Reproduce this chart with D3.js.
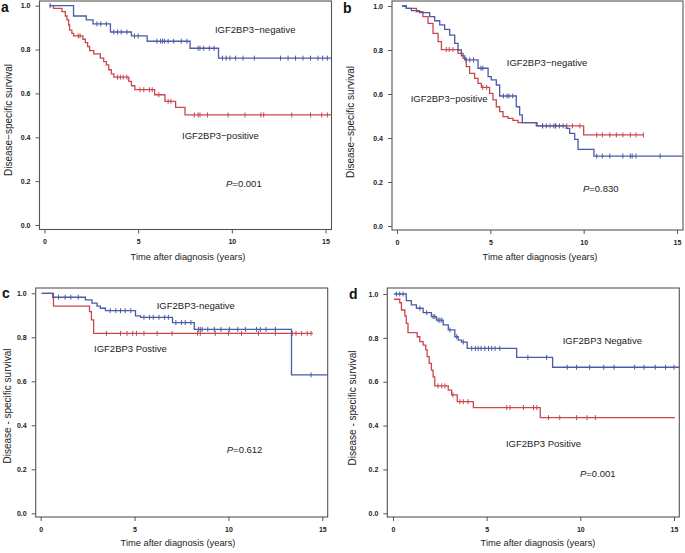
<!DOCTYPE html>
<html><head><meta charset="utf-8">
<script src="https://cdn.jsdelivr.net/npm/d3@7/dist/d3.min.js"></script>
<style>
body{margin:0;background:#fff;}
svg{display:block;font-family:"Liberation Sans",Arial,sans-serif;}
</style></head><body>
<svg id="chart" width="685" height="553"></svg>
<script>
// ---------- tick labels ----------
const xTicks = [0, 5, 10, 15];
const yTicks = [0, 0.2, 0.4, 0.6, 0.8, 1.0];

// ---------- panel a ----------
const aNegT = [0.27, 1.55, 2.23, 2.59, 3.52, 4.64, 5.48, 7.77, 9.29, 15.3];
const aNegS = [1.0, 0.953, 0.935, 0.917, 0.880, 0.862, 0.838, 0.806, 0.761, 0.761];
const aNegC = [0.3, 2.8, 3.0, 3.3, 3.7, 3.9, 4.1, 4.4, 4.8, 5.0, 6.0, 6.2, 6.3, 6.4, 6.6, 6.9, 7.3, 7.6, 8.2, 8.3, 8.5, 8.8, 9.05, 9.5, 9.7, 9.9, 10.2, 10.6, 11.2, 12.6, 13.0, 13.4, 13.8, 14.2, 14.6, 14.85, 15.1];
const aPosT = [0.27, 0.48, 0.93, 1.11, 1.2, 1.29, 1.34, 1.46, 1.55, 2.05, 2.18, 2.3, 2.41, 2.63, 2.98, 3.16, 3.3, 3.43, 3.57, 3.7, 4.5, 4.64, 4.82, 5.88, 6.43, 7.0, 7.5, 15.3];
const aPosS = [1.0, 0.988, 0.973, 0.953, 0.935, 0.912, 0.889, 0.874, 0.862, 0.847, 0.832, 0.814, 0.795, 0.780, 0.761, 0.745, 0.730, 0.708, 0.689, 0.674, 0.655, 0.635, 0.617, 0.594, 0.564, 0.536, 0.502, 0.502];
const aPosC = [1.8, 1.9, 3.9, 4.05, 4.2, 4.4, 5.1, 5.3, 5.6, 5.75, 6.1, 6.6, 6.75, 8.0, 8.2, 8.3, 8.7, 9.8, 10.7, 11.55, 11.7, 13.2, 14.2, 14.8, 15.1];

// ---------- panel b ----------
const bNegT = [0.27, 0.5, 0.77, 1.21, 1.75, 2.02, 2.29, 2.55, 2.82, 3.09, 3.27, 3.45, 3.63, 4.34, 4.88, 5.05, 5.32, 5.5, 6.39, 6.57, 6.71, 7.5, 9.07, 9.25, 9.52, 9.7, 10.55, 15.3];
const bNegS = [1.0, 0.989, 0.979, 0.970, 0.952, 0.933, 0.914, 0.894, 0.868, 0.830, 0.800, 0.773, 0.755, 0.717, 0.679, 0.664, 0.641, 0.591, 0.542, 0.505, 0.470, 0.455, 0.444, 0.421, 0.394, 0.348, 0.318, 0.318];
const bNegC = [3.7, 3.9, 4.1, 4.5, 4.6, 5.7, 5.9, 6.0, 6.2, 7.8, 8.0, 8.4, 8.5, 8.7, 8.9, 10.7, 11.0, 11.4, 12.1, 12.5, 12.6, 12.8, 14.1];
const bPosT = [0.27, 0.5, 1.04, 1.39, 1.66, 1.93, 2.2, 2.38, 3.27, 3.54, 3.71, 3.89, 4.16, 4.34, 4.52, 4.96, 5.14, 5.32, 5.5, 5.68, 5.95, 6.21, 6.48, 7.46, 10.0, 13.2];
const bPosS = [1.0, 0.989, 0.974, 0.952, 0.921, 0.876, 0.838, 0.802, 0.785, 0.762, 0.724, 0.694, 0.671, 0.648, 0.630, 0.603, 0.573, 0.542, 0.520, 0.497, 0.489, 0.480, 0.470, 0.455, 0.414, 0.414];
const bPosC = [2.64, 2.8, 3.0, 4.6, 4.8, 7.8, 8.2, 8.5, 9.1, 9.4, 9.8, 10.7, 11.0, 11.4, 11.75, 12.1, 12.5, 12.8, 13.2];

// ---------- panel c ----------
const cNegT = [0.05, 0.64, 2.38, 2.73, 3.0, 3.18, 3.45, 5.05, 5.32, 7.02, 8.18, 13.36, 15.3];
const cNegS = [1.0, 0.982, 0.970, 0.955, 0.942, 0.932, 0.921, 0.897, 0.891, 0.867, 0.836, 0.629, 0.629];
const cNegC = [0.95, 1.3, 1.6, 2.0, 3.7, 4.0, 4.25, 4.5, 4.8, 5.5, 5.8, 6.0, 6.3, 6.6, 6.8, 7.2, 7.5, 7.7, 8.0, 8.4, 8.5, 8.6, 8.9, 9.25, 9.6, 10.05, 10.5, 10.9, 11.5, 11.7, 12.0, 12.5, 14.4];
const cPosT = [0.05, 0.68, 2.6, 2.7, 2.82, 14.5];
const cPosS = [1.0, 0.942, 0.917, 0.879, 0.818, 0.818];
const cPosC = [3.5, 4.25, 4.6, 4.9, 5.1, 5.5, 6.2, 7.0, 8.35, 8.5, 9.3, 10.0, 10.7, 11.6, 12.5, 13.4, 13.6, 13.9, 14.2, 14.4];

// ---------- panel d ----------
const dNegT = [0.05, 0.71, 0.98, 1.25, 1.61, 2.05, 2.32, 2.68, 2.95, 3.3, 3.48, 3.66, 3.96, 6.6, 8.52, 15.27];
const dNegS = [1.0, 0.970, 0.950, 0.935, 0.915, 0.897, 0.881, 0.859, 0.836, 0.805, 0.790, 0.781, 0.752, 0.711, 0.666, 0.666];
const dNegC = [0.18, 0.36, 0.54, 1.43, 1.8, 2.14, 2.23, 2.41, 2.5, 2.6, 3.04, 3.4, 3.75, 4.2, 4.4, 4.55, 4.7, 4.9, 5.1, 5.27, 5.45, 5.7, 7.2, 8.2, 9.3, 9.8, 10.5, 11.25, 11.8, 12.9, 13.4, 14.0, 14.55, 15.0];
const dPosT = [0.05, 0.36, 0.45, 0.63, 0.71, 0.8, 1.29, 1.43, 1.61, 1.75, 1.82, 1.93, 2.05, 2.14, 2.23, 2.95, 3.13, 3.43, 4.29, 7.86, 15.05];
const dPosS = [0.976, 0.960, 0.927, 0.900, 0.866, 0.824, 0.805, 0.783, 0.767, 0.745, 0.714, 0.684, 0.653, 0.622, 0.581, 0.562, 0.540, 0.509, 0.482, 0.436, 0.436];
const dPosC = [2.4, 2.6, 2.77, 3.2, 3.57, 3.75, 4.0, 6.07, 6.25, 6.96, 7.5, 7.68, 8.3, 8.9, 9.8, 10.36, 10.8];

// ---------- annotation texts ----------
const negLabels = ["IGF2BP3\u2212negative", "IGF2BP3\u2212negative", "IGF2BP3-negative", "IGF2BP3 Negative"];
const posLabels = ["IGF2BP3\u2212positive", "IGF2BP3\u2212positive", "IGF2BP3 Postive", "IGF2BP3 Positive"];
const pValues = ["=0.001", "=0.830", "=0.612", "=0.001"];
const panelLetters = ["a", "b", "c", "d"];
const yTitles = ["Disease\u2212specific survival", "Disease\u2212specific survival", "Disease - specific survival", "Disease - specific survival"];
const xTitle = "Time after diagnosis (years)";

// ---------- layout (positions only) ----------
const layout = [
  {boxL:39.5, boxT:1, boxR:331.5, boxB:229.5, x0:44.5, x15:325.5, y1:5.7, y0:225, letter:[1,12], yt:[8,120], xt:[188,257],
   neg:[9.10,0.891], pos:[7.34,0.407], p:[9.69,0.187]},
  {boxL:392, boxT:1, boxR:683, boxB:230, x0:397, x15:677, y1:6, y0:226, letter:[343,13], yt:[350,122], xt:[540,257],
   neg:[5.88,0.744], pos:[0.73,0.577], p:[9.96,0.171]},
  {boxL:35.7, boxT:288, boxR:327.7, boxB:517, x0:40.7, x15:322.3, y1:293.3, y0:513.3, letter:[2,298], yt:[7,406], xt:[178,543],
   neg:[6.18,0.942], pos:[2.84,0.747], p:[9.91,0.291]},
  {boxL:387.3, boxT:288, boxR:679.3, boxB:517, x0:393, x15:674, y1:294, y0:513.3, letter:[349,299], yt:[352,408], xt:[538,543],
   neg:[9.06,0.786], pos:[6.03,0.316], p:[9.98,0.179]}
];

const seriesByPanel = [
  [{t:aPosT, s:aPosS, c:aPosC, col:"red"}, {t:aNegT, s:aNegS, c:aNegC, col:"blue"}],
  [{t:bPosT, s:bPosS, c:bPosC, col:"red"}, {t:bNegT, s:bNegS, c:bNegC, col:"blue"}],
  [{t:cPosT, s:cPosS, c:cPosC, col:"red"}, {t:cNegT, s:cNegS, c:cNegC, col:"blue"}],
  [{t:dPosT, s:dPosS, c:dPosC, col:"red"}, {t:dNegT, s:dNegS, c:dNegC, col:"blue"}]
];
const colors = {red:"#c9474d", blue:"#4d5aa6"};
const ink = "#222";
const boxCol = "#555";

const svg = d3.select("#chart");

layout.forEach((L, i) => {
  const g = svg.append("g");
  const x = d3.scaleLinear().domain([0, 15]).range([L.x0, L.x15]);
  const y = d3.scaleLinear().domain([0, 1]).range([L.y0, L.y1]);

  // axes
  const yAx = g.append("g").attr("transform", `translate(${L.boxL},0)`)
    .call(d3.axisLeft(y).tickValues(yTicks).tickSize(4).tickPadding(5).tickFormat(d3.format(".1f")));
  const xAx = g.append("g").attr("transform", `translate(0,${L.boxB})`)
    .call(d3.axisBottom(x).tickValues(xTicks).tickSize(4).tickPadding(6).tickFormat(d3.format("d")));
  [yAx, xAx].forEach(ax => {
    ax.select(".domain").remove();
    ax.selectAll("line").attr("stroke", boxCol);
    ax.selectAll("text").attr("fill", ink).style("font-size", "7px").style("font-weight", "bold")
      .style("font-family", "'Liberation Sans',Arial,sans-serif");
  });

  // box
  g.append("rect").attr("x", L.boxL).attr("y", L.boxT)
    .attr("width", L.boxR - L.boxL).attr("height", L.boxB - L.boxT)
    .attr("fill", "none").attr("stroke", boxCol).attr("stroke-width", 1.1);

  // curves
  seriesByPanel[i].forEach(sr => {
    let d = `M${x(sr.t[0])},${y(sr.s[0])}`;
    for (let k = 1; k < sr.t.length; k++) {
      d += `H${x(sr.t[k])}V${y(sr.s[k])}`;
    }
    g.append("path").attr("d", d).attr("fill", "none")
      .attr("stroke", colors[sr.col]).attr("stroke-width", 1.3);
    // censor marks
    const survAt = tt => {
      let v = sr.s[0];
      for (let k = 0; k < sr.t.length; k++) { if (sr.t[k] <= tt) v = sr.s[k]; }
      return v;
    };
    g.selectAll(null).data(sr.c).enter().append("line")
      .attr("x1", d => x(d)).attr("x2", d => x(d))
      .attr("y1", d => y(survAt(d)) - 2.5).attr("y2", d => y(survAt(d)) + 2.5)
      .attr("stroke", colors[sr.col]).attr("stroke-width", 1);
  });

  // annotations
  g.append("text").attr("x", x(L.neg[0])).attr("y", y(L.neg[1])).attr("dy", "0.35em")
    .attr("fill", ink).style("font-size", "9.5px").text(negLabels[i]);
  g.append("text").attr("x", x(L.pos[0])).attr("y", y(L.pos[1])).attr("dy", "0.35em")
    .attr("fill", ink).style("font-size", "9.5px").text(posLabels[i]);
  const pt = g.append("text").attr("x", x(L.p[0])).attr("y", y(L.p[1])).attr("dy", "0.35em")
    .attr("fill", ink).style("font-size", "9.5px");
  pt.append("tspan").style("font-style", "italic").text("P");
  pt.append("tspan").text(pValues[i]);

  // titles
  g.append("text").attr("x", L.xt[0]).attr("y", L.xt[1]).attr("dy", "0.35em")
    .attr("text-anchor", "middle").attr("fill", ink).style("font-size", "9.3px").text(xTitle);
  g.append("text").attr("transform", `translate(${L.yt[0]},${L.yt[1]}) rotate(-90)`)
    .attr("dy", "0.35em").attr("text-anchor", "middle").attr("fill", ink)
    .style("font-size", "10px").text(yTitles[i]);

  // panel letter
  g.append("text").attr("x", L.letter[0]).attr("y", L.letter[1])
    .attr("fill", "#111").style("font-size", "14px").style("font-weight", "bold").text(panelLetters[i]);
});
</script>
</body></html>
